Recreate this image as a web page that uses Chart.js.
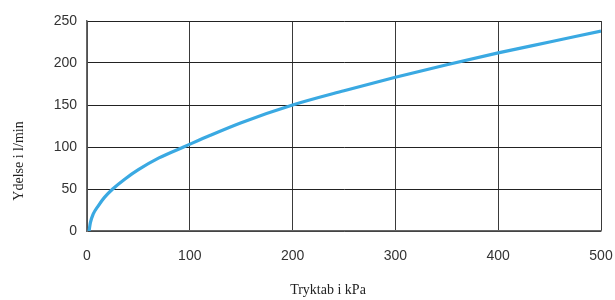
<!DOCTYPE html>
<html>
<head>
<meta charset="utf-8">
<script src="https://cdn.jsdelivr.net/npm/chart.js@4"></script>
<style>
  html, body { margin: 0; padding: 0; background: #fff; }
  #wrap { width: 615px; height: 300px; }
</style>
</head>
<body>
<div id="wrap"><canvas id="chart" width="615" height="300"></canvas></div>
<script>
// pressure drop (kPa) and flow (l/min)
const pressure = [2, 3.3, 6, 11, 17, 25, 37, 50, 70, 94, 120, 150, 200, 250, 300, 350, 400, 450, 500];
const flow     = [0, 10, 20, 30, 40, 50, 62, 73, 87, 100, 114, 129, 150, 167, 183, 198, 212, 225, 238];
const xTicks = [0, 100, 200, 300, 400, 500];
const yTicks = [0, 50, 100, 150, 200, 250];

const xTitle = 'Tryktab i kPa';
const yTitle = 'Ydelse i l/min';

const axisTitles = {
  id: 'axisTitles',
  afterDraw(chart) {
    const ctx = chart.ctx;
    ctx.save();
    ctx.fillStyle = '#222';
    ctx.font = '14px "Liberation Serif", "DejaVu Serif", serif';
    ctx.textAlign = 'center';
    ctx.textBaseline = 'middle';
    ctx.fillText(xTitle, 328, 290);
    ctx.translate(19, 161);
    ctx.rotate(-Math.PI / 2);
    ctx.fillText(yTitle, 0, 0);
    ctx.restore();
  }
};

new Chart(document.getElementById('chart').getContext('2d'), {
  type: 'line',
  data: {
    datasets: [{
      data: pressure.map((p, i) => ({ x: p, y: flow[i] })),
      borderColor: '#3aa9e2',
      borderWidth: 3.2,
      pointRadius: 0,
      fill: false,
      cubicInterpolationMode: 'monotone'
    }]
  },
  options: {
    animation: false,
    responsive: false,
    layout: { padding: { left: 0, right: 0, top: 21, bottom: 0 } },
    plugins: { legend: { display: false }, tooltip: { enabled: false } },
    scales: {
      x: {
        type: 'linear',
        min: 0, max: 500,
        afterFit(s) { s.height = 69; s.paddingLeft = 0; s.paddingRight = 14; },
        afterBuildTicks(s) { s.ticks = xTicks.map(v => ({ value: v })); },
        grid: { color: '#3a3a3a', lineWidth: 1, drawTicks: false },
        border: { color: '#666', width: 1.5 },
        ticks: {
          padding: 17,
          color: '#333',
          font: { family: '"Liberation Sans", Arial, sans-serif', size: 14 }
        }
      },
      y: {
        min: 0, max: 250,
        afterFit(s) { s.width = 87; },
        afterBuildTicks(s) { s.ticks = yTicks.map(v => ({ value: v })); },
        grid: { color: '#222', lineWidth: 1, drawTicks: false },
        border: { color: '#666', width: 1.5 },
        ticks: {
          padding: 10,
          color: '#333',
          font: { family: '"Liberation Sans", Arial, sans-serif', size: 14 }
        }
      }
    }
  },
  plugins: [axisTitles]
});
</script>
</body>
</html>
